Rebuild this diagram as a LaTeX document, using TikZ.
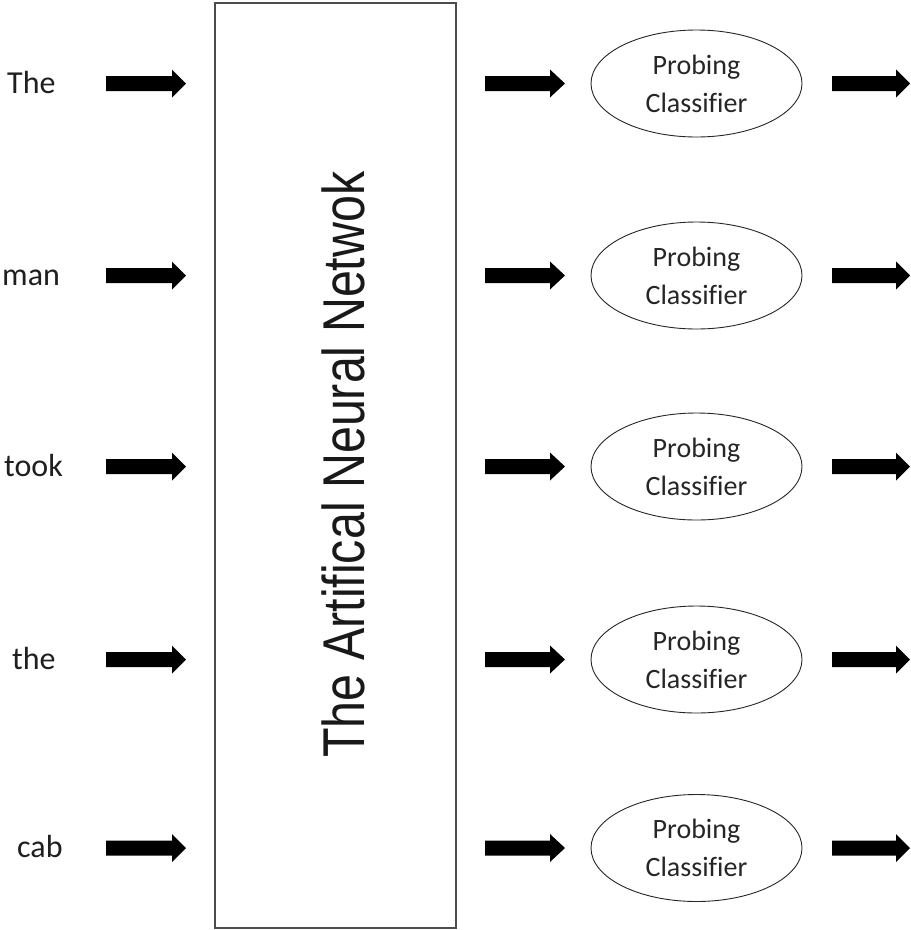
\documentclass[tikz,border=0pt]{standalone}
\usepackage{fontspec}
\setmainfont{Carlito}[Ligatures=NoCommon]
\newfontfamily\arialfont{Liberation Sans}[Ligatures=NoCommon]
\usetikzlibrary{shapes.geometric}
\newcommand\blockarrow[4]{% start x, tip x, head start x, y
  \fill[black] (#1,#4-7.5) -- (#3,#4-7.5) -- (#3,#4-14) -- (#2,#4) -- (#3,#4+14) -- (#3,#4+7.5) -- (#1,#4+7.5) -- cycle;}
\begin{document}
\begin{tikzpicture}[x=1pt,y=-1pt,
  word/.style={anchor=base west, font=\fontsize{32}{38}\selectfont, inner sep=0pt, text=black!88},
  probe/.style={draw=black!85, line width=0.9pt, ellipse, minimum width=211pt, minimum height=107pt, inner sep=0pt, align=center, font=\fontsize{28}{38}\selectfont, text=black!85},
  netbox/.style={draw=black!70, line width=2pt}]
\useasboundingbox (0,0) rectangle (911,930);
\fill[white] (0,0) rectangle (911,930);
% network box
\draw[netbox] (215,3) rectangle (456,928);
\node[anchor=base, rotate=90, inner sep=0pt, text=black!90] (net) at (364,464.5)
  {\arialfont\fontsize{59}{60}\selectfont\scalebox{0.82}[1]{The Artifical Neural Netwok}};
% words
\node[word] (w1) at (7,93) {The};
\node[word] (w2) at (2,285) {man};
\node[word] (w3) at (4,476) {took};
\node[word] (w4) at (12,669) {the};
\node[word] (w5) at (17,857.5) {cab};
% rows
\foreach \y/\i in {83.5/1,275.5/2,466.5/3,659.5/4,848/5}{
  \blockarrow{106}{186}{172}{\y}
  \blockarrow{485}{565}{550}{\y}
  \node[probe] (p\i) at (696.5,\y) {Probing\\Classifier};
  \blockarrow{832}{910}{896}{\y}
}
\end{tikzpicture}
\end{document}
